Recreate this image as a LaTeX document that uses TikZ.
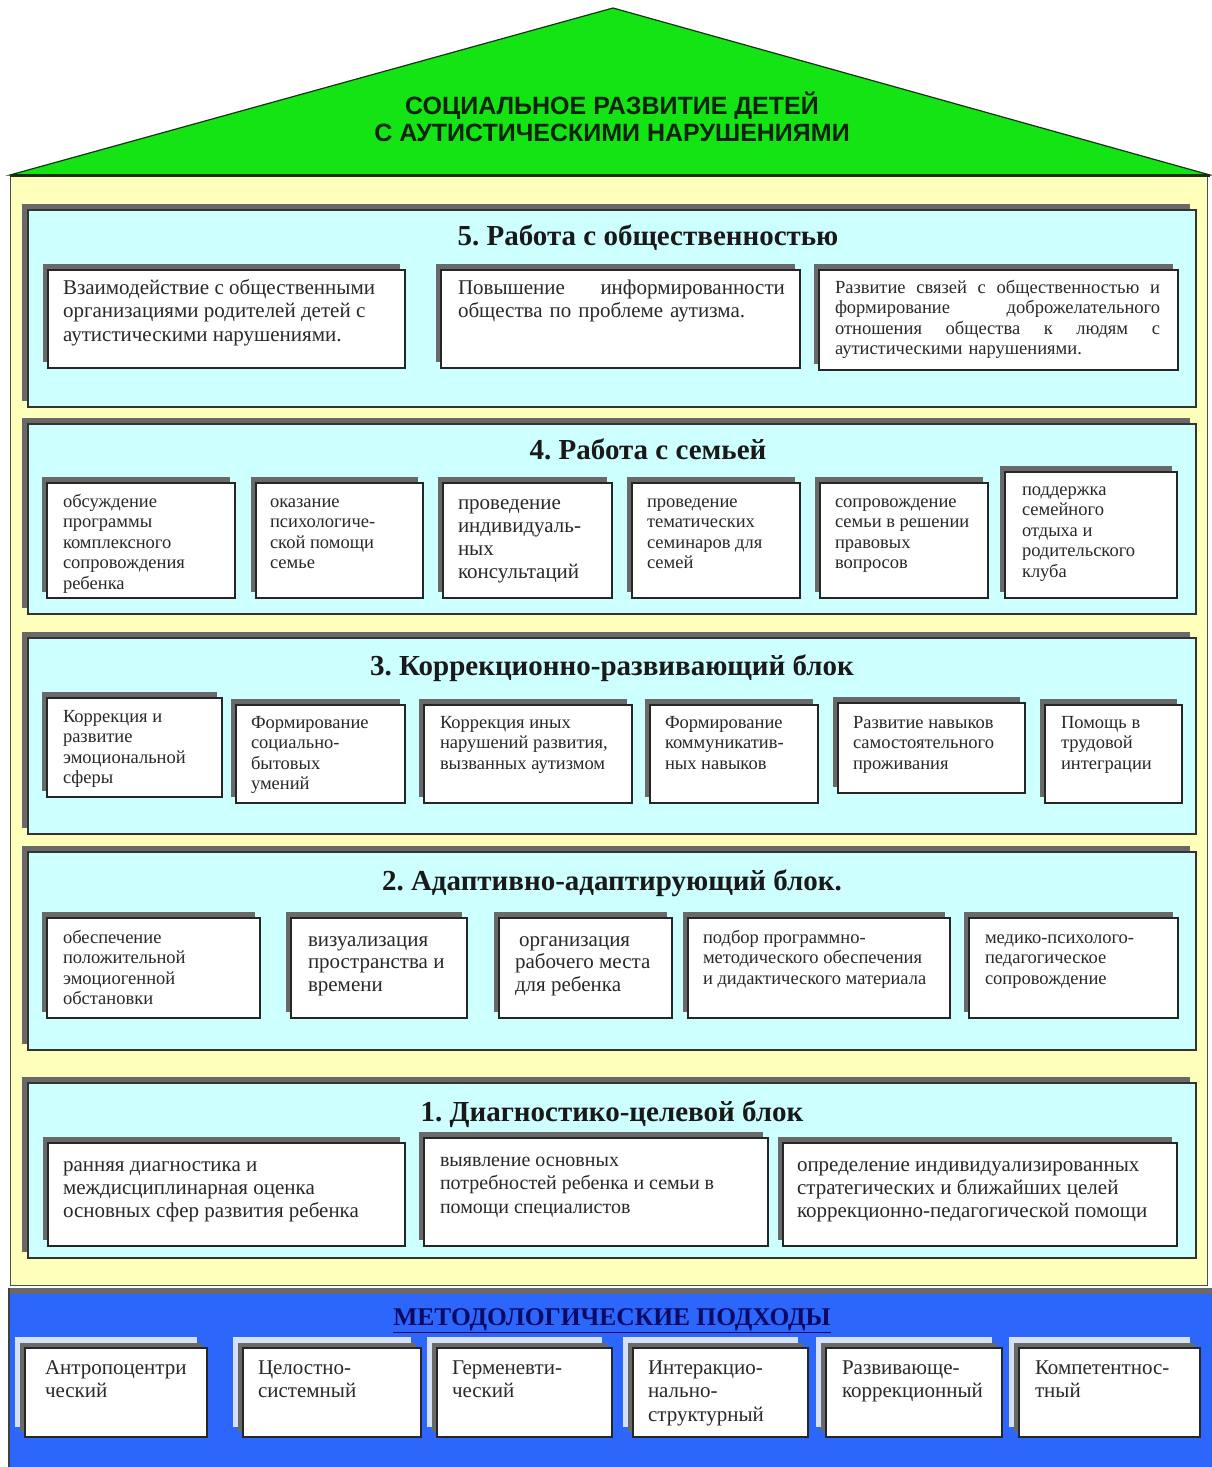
\documentclass[tikz,border=0pt]{standalone}
\usepackage{fontspec}
\setmainfont{Liberation Serif}
\newfontfamily\roofsans{Liberation Sans}
\frenchspacing
\definecolor{roofgreen}{RGB}{20,228,20}
\definecolor{roofline}{RGB}{20,50,20}
\definecolor{ybody}{RGB}{255,255,188}
\definecolor{cyanbox}{RGB}{206,255,255}
\definecolor{bluebot}{RGB}{45,102,250}
\definecolor{navy}{RGB}{10,10,100}
\definecolor{shd}{RGB}{105,105,105}
\definecolor{lshd}{RGB}{215,225,245}
\definecolor{txtc}{RGB}{40,40,40}
\newcommand\Rs{\rule{0pt}{14pt}}
\newcommand\Rl{\rule{0pt}{16pt}}
\newcommand\wb[5]{%
  \fill[shd] ({#2-5},{#3-6}) rectangle ({#4-5},{#5-6});
  \node[wbox, minimum width={(#4-#2)*1pt}, minimum height={(#5-#3)*1pt}] (#1) at ({(#2+#4)/2},{(#3+#5)/2}) {};}
\newcommand\bb[5]{%
  \fill[lshd] ({#2-10},{#3-11}) rectangle ({#4-10},{#5-10});
  \fill[shd] ({#2-5},{#3-5}) rectangle ({#4-5},{#5-5});
  \node[wbox, minimum width={(#4-#2)*1pt}, minimum height={(#5-#3)*1pt}] (#1) at ({(#2+#4)/2},{(#3+#5)/2}) {};}
\newcommand\sect[3]{%
  \fill[shd] (22,{#2-6}) rectangle (1190,{#3-6});
  \node[secbox, minimum width=1168pt, minimum height={(#3-#2)*1pt}] (#1) at (612,{(#2+#3)/2}) {};}
\tikzset{
  wbox/.style={draw=black!85, line width=1.2pt, fill=white, inner sep=0pt, outer sep=0pt},
  secbox/.style={draw=black!80, line width=1.4pt, fill=cyanbox, inner sep=0pt, outer sep=0pt},
  tx/.style={anchor=north west, inner sep=0pt, outer sep=0pt, align=left, text=txtc},
  sm/.style={tx, font=\fontsize{18.5}{20.5}\selectfont},
  lg/.style={tx, font=\fontsize{21}{23.5}\selectfont},
  ttl/.style={anchor=base, inner sep=0pt, font=\fontsize{29}{32}\selectfont\bfseries, text=black!90},
}
\begin{document}
\begin{tikzpicture}[x=1pt,y=-1pt]
\useasboundingbox (0,0) rectangle (1212,1467);
\fill[white] (0,0) rectangle (1212,1467);
% body
\filldraw[fill=ybody, draw=black!70, line width=1pt] (10,175) rectangle (1207,1285);
% roof
\filldraw[fill=roofgreen, draw=roofline, line width=1.2pt] (10,175) -- (613,8) -- (1210,175) -- cycle;
\draw[roofline, line width=3pt] (10,175) -- (1210,175);
\node[align=center, inner sep=0pt, font=\roofsans\bfseries\fontsize{25}{27}\selectfont, text={rgb,255:red,10;green,35;blue,10}] (roof) at (612,117) {СОЦИАЛЬНОЕ РАЗВИТИЕ ДЕТЕЙ\\С АУТИСТИЧЕСКИМИ НАРУШЕНИЯМИ};
% ---------- section 5
\sect{s5}{210}{407}
\node[ttl] (t5) at (648,245) {5. Работа с общественностью};
\wb{b51}{48}{270}{405}{368}
\wb{b52}{441}{270}{800}{368}
\wb{b53}{819}{270}{1178}{370}
\node[lg] (t51) at (63,278) {\Rl Взаимодействие с общественными\\организациями родителей детей с\\аутистическими нарушениями.};
\node[lg, text width=327pt] (t52) at (458,278) {\Rl Повышение\hfill информированности\\общества по проблеме аутизма.};
\node[sm, text width=325pt] (t53) at (835,279) {\Rs Развитие\hfill связей\hfill с\hfill общественностью\hfill и\\формирование\hfill доброжелательного\\отношения\hfill общества\hfill к\hfill людям\hfill с\\аутистическими нарушениями.};
% ---------- section 4
\sect{s4}{424}{614}
\node[ttl] (t4) at (648,459) {4. Работа с семьей};
\wb{b41}{47}{483}{235}{598}
\wb{b42}{256}{483}{423}{598}
\wb{b43}{443}{483}{612}{598}
\wb{b44}{632}{483}{800}{598}
\wb{b45}{820}{483}{988}{598}
\wb{b46}{1005}{472}{1177}{598}
\node[sm] (t41) at (63,493) {\Rs обсуждение\\программы\\комплексного\\сопровождения\\ребенка};
\node[sm] (t42) at (270,493) {\Rs оказание\\психологиче-\\ской помощи\\семье};
\node[tx, font=\fontsize{21}{23}\selectfont] (t43) at (458,493) {\Rl проведение\\индивидуаль-\\ных\\консультаций};
\node[sm] (t44) at (647,493) {\Rs проведение\\тематических\\семинаров для\\семей};
\node[sm] (t45) at (835,493) {\Rs сопровождение\\семьи в решении\\правовых\\вопросов};
\node[sm] (t46) at (1022,481) {\Rs поддержка\\семейного\\отдыха и\\родительского\\клуба};
% ---------- section 3
\sect{s3}{638}{834}
\node[ttl] (t3) at (612,675) {3. Коррекционно-развивающий блок};
\wb{b31}{47}{698}{222}{797}
\wb{b32}{236}{705}{405}{803}
\wb{b33}{424}{705}{632}{803}
\wb{b34}{650}{705}{818}{803}
\wb{b35}{838}{703}{1025}{793}
\wb{b36}{1045}{705}{1182}{803}
\node[sm] (t31) at (63,708) {\Rs Коррекция и\\развитие\\эмоциональной\\сферы};
\node[sm] (t32) at (251,714) {\Rs Формирование\\социально-\\бытовых\\умений};
\node[sm] (t33) at (440,714) {\Rs Коррекция иных\\нарушений развития,\\вызванных аутизмом};
\node[sm] (t34) at (665,714) {\Rs Формирование\\коммуникатив-\\ных навыков};
\node[sm] (t35) at (853,714) {\Rs Развитие навыков\\самостоятельного\\проживания};
\node[sm] (t36) at (1061,714) {\Rs Помощь в\\трудовой\\интеграции};
% ---------- section 2
\sect{s2}{852}{1050}
\node[ttl] (t2) at (612,890) {2. Адаптивно-адаптирующий блок.};
\wb{b21}{47}{918}{260}{1018}
\wb{b22}{291}{918}{467}{1018}
\wb{b23}{499}{918}{672}{1018}
\wb{b24}{688}{918}{950}{1018}
\wb{b25}{969}{918}{1178}{1018}
\node[sm] (t21) at (63,929) {\Rs обеспечение\\положительной\\эмоциогенной\\обстановки};
\node[tx, font=\fontsize{21}{22.5}\selectfont] (t22) at (308,930) {\Rl визуализация\\пространства и\\времени};
\node[tx, font=\fontsize{21}{22.5}\selectfont] (t23) at (515,930) {\Rl\hspace{4pt}организация\\рабочего места\\для ребенка};
\node[sm] (t24) at (703,929) {\Rs подбор программно-\\методического обеспечения\\и дидактического материала};
\node[sm] (t25) at (985,929) {\Rs медико-психолого-\\педагогическое\\сопровождение};
% ---------- section 1
\sect{s1}{1083}{1258}
\node[ttl] (t1) at (612,1121) {1. Диагностико-целевой блок};
\wb{b11}{48}{1143}{405}{1246}
\wb{b12}{424}{1138}{768}{1246}
\wb{b13}{783}{1143}{1177}{1246}
\node[tx, font=\fontsize{21}{23}\selectfont] (t11) at (63,1155) {\Rl ранняя диагностика и\\междисциплинарная оценка\\основных сфер развития ребенка};
\node[tx, font=\fontsize{20}{23.5}\selectfont] (t12) at (440,1150) {\Rl выявление основных\\потребностей ребенка и семьи в\\помощи специалистов};
\node[tx, font=\fontsize{21}{23}\selectfont] (t13) at (797,1155) {\Rl определение индивидуализированных\\стратегических и ближайших целей\\коррекционно-педагогической помощи};
% ---------- bottom
\fill[bluebot] (8,1288) rectangle (1212,1467);
\fill[shd] (8,1288) rectangle (1212,1294);
\draw[black!75, line width=1.5pt] (9,1288) -- (9,1467);
\node[anchor=base, inner sep=0pt, font=\fontsize{25.5}{28}\selectfont\bfseries, text=navy] (meth) at (612,1325) {\underline{МЕТОДОЛОГИЧЕСКИЕ ПОДХОДЫ}};
\bb{m1}{25}{1348}{207}{1437}
\bb{m2}{243}{1348}{421}{1437}
\bb{m3}{437}{1348}{612}{1437}
\bb{m4}{633}{1348}{808}{1437}
\bb{m5}{826}{1348}{1002}{1437}
\bb{m6}{1019}{1348}{1200}{1437}
\node[tx, font=\fontsize{21}{23.5}\selectfont] (tm1) at (45,1358) {\Rl Антропоцентри\\ческий};
\node[tx, font=\fontsize{21}{23.5}\selectfont] (tm2) at (258,1358) {\Rl Целостно-\\системный};
\node[tx, font=\fontsize{21}{23.5}\selectfont] (tm3) at (452,1358) {\Rl Герменевти-\\ческий};
\node[tx, font=\fontsize{21}{23.5}\selectfont] (tm4) at (648,1358) {\Rl Интеракцио-\\нально-\\структурный};
\node[tx, font=\fontsize{21}{23.5}\selectfont] (tm5) at (842,1358) {\Rl Развивающе-\\коррекционный};
\node[tx, font=\fontsize{21}{23.5}\selectfont] (tm6) at (1035,1358) {\Rl Компетентнос-\\тный};
\end{tikzpicture}
\end{document}
